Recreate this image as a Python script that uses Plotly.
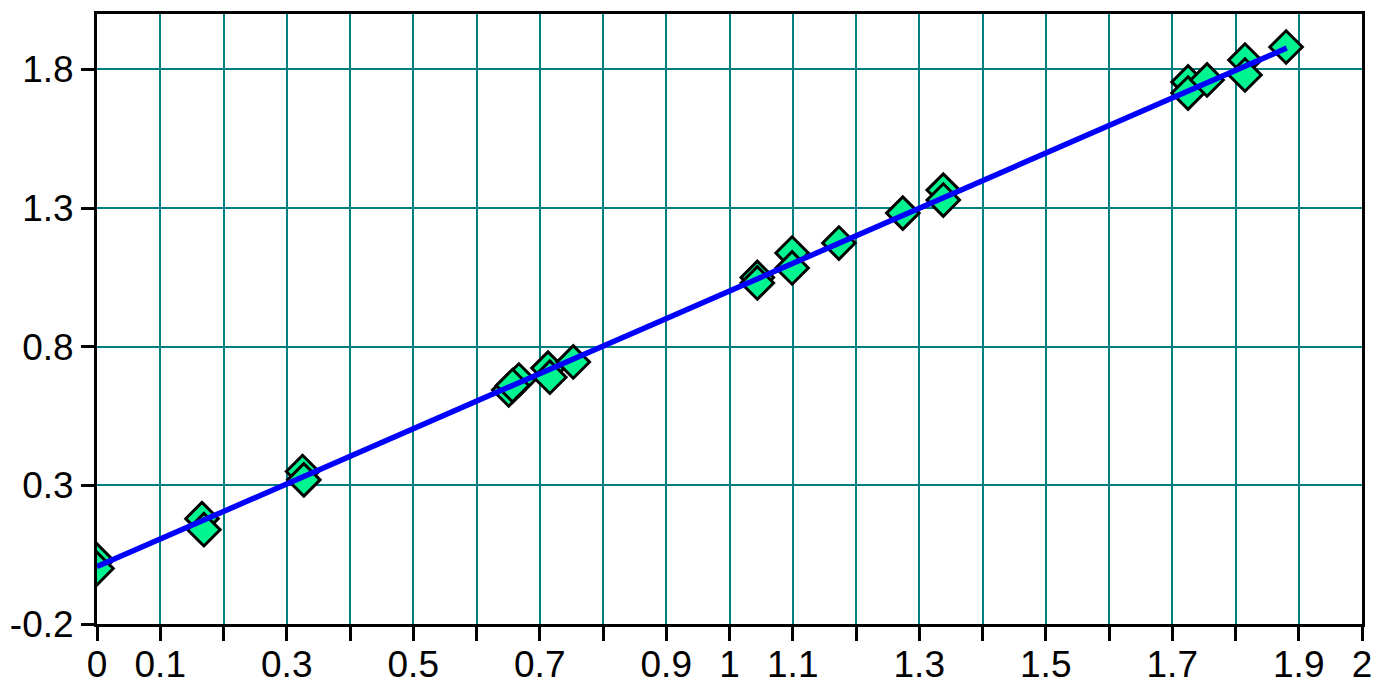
import plotly.graph_objects as go

# Observed data points (x, y)
pts_x = [0.0, 0.0, 0.166, 0.169, 0.325, 0.327, 0.651, 0.667, 0.657, 0.713, 0.716, 0.753,
         1.044, 1.044, 1.099, 1.099, 1.173, 1.274, 1.338, 1.338,
         1.725, 1.725, 1.755, 1.815, 1.815, 1.880]
pts_y = [0.03, 0.0, 0.18, 0.14, 0.35, 0.32, 0.644, 0.68, 0.66, 0.723, 0.69, 0.745,
         1.05, 1.03, 1.138, 1.084, 1.174, 1.282, 1.365, 1.329,
         1.755, 1.715, 1.762, 1.834, 1.78, 1.881]

# Fitted line
line_x = [0.0, 1.881]
line_y = [0.007, 1.877]

# Axis ticks
x_tickvals = [round(i * 0.1, 1) for i in range(21)]
x_shown = {0.0: "0", 0.1: "0.1", 0.3: "0.3", 0.5: "0.5", 0.7: "0.7", 0.9: "0.9",
           1.0: "1", 1.1: "1.1", 1.3: "1.3", 1.5: "1.5", 1.7: "1.7", 1.9: "1.9", 2.0: "2"}
x_ticktext = [x_shown.get(v, "") for v in x_tickvals]
y_tickvals = [-0.2, 0.3, 0.8, 1.3, 1.8]
y_ticktext = ["-0.2", "0.3", "0.8", "1.3", "1.8"]

fig = go.Figure()
fig.add_trace(go.Scatter(
    x=pts_x, y=pts_y, mode="markers",
    marker=dict(symbol="diamond", size=25, color="#00F590",
                line=dict(color="black", width=3)),
    showlegend=False, hoverinfo="skip"))
fig.add_trace(go.Scatter(
    x=line_x, y=line_y, mode="lines",
    line=dict(color="#0000FF", width=5.5),
    showlegend=False, hoverinfo="skip"))

font = dict(family="Liberation Sans, Arial, sans-serif", size=37, color="black")
fig.update_layout(
    width=1380, height=684,
    margin=dict(l=97, r=18, t=14, b=60),
    paper_bgcolor="white", plot_bgcolor="white",
    font=font,
    xaxis=dict(range=[0, 2], tickmode="array", tickvals=x_tickvals, ticktext=x_ticktext,
               showgrid=True, gridcolor="#008080", gridwidth=2,
               showline=True, linecolor="black", linewidth=3, mirror=True,
               ticks="outside", ticklen=14, tickwidth=3, tickcolor="black",
               ticklabelstandoff=-8,
               zeroline=False, automargin=False, tickfont=font),
    yaxis=dict(range=[-0.2, 2.0], tickmode="array", tickvals=y_tickvals, ticktext=y_ticktext,
               showgrid=True, gridcolor="#008080", gridwidth=2,
               showline=True, linecolor="black", linewidth=3, mirror=True,
               ticks="outside", ticklen=13, tickwidth=3, tickcolor="black",
               zeroline=False, automargin=False, tickfont=font),
)

fig.write_html("out.html")
